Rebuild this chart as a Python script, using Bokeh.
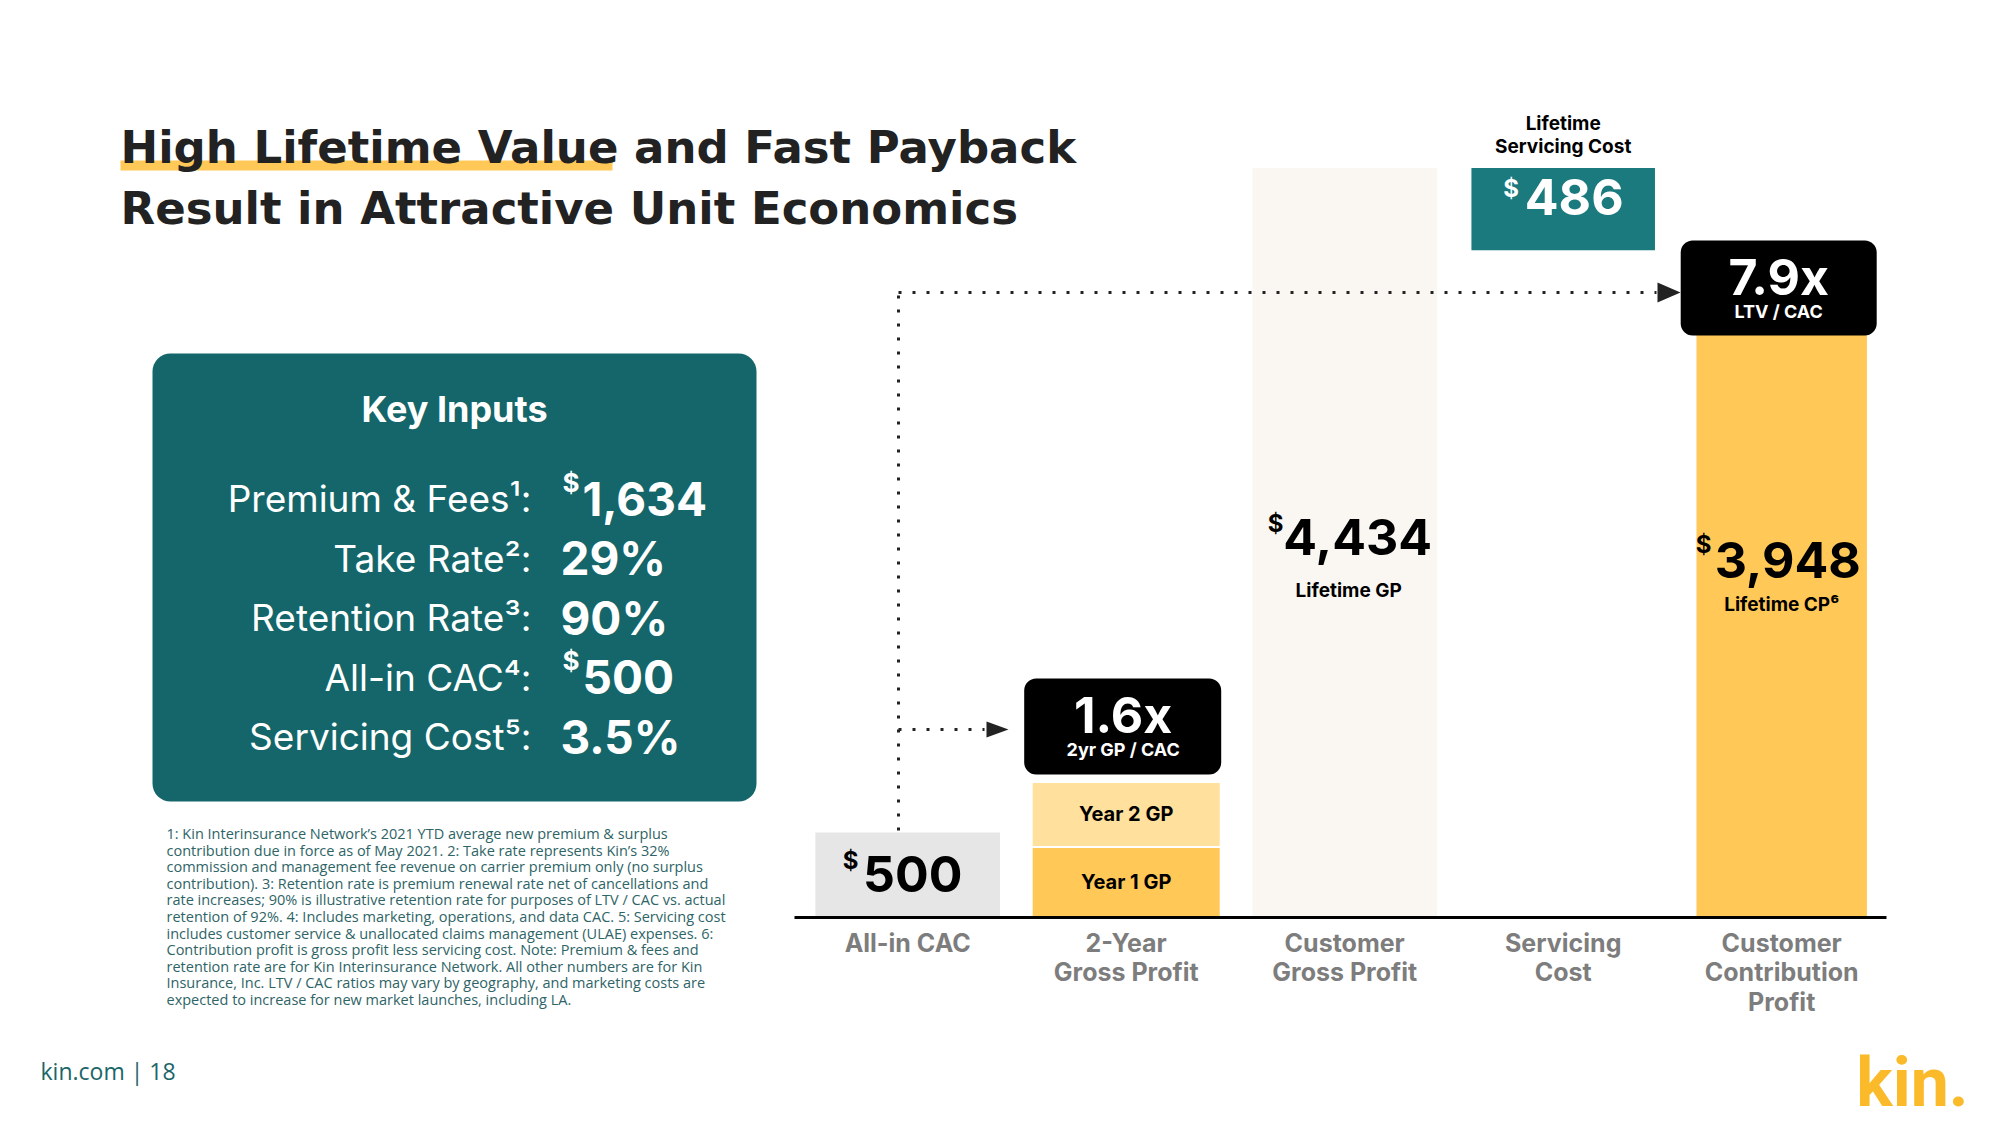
from bokeh.plotting import figure
from bokeh.models import Range1d
from bokeh.core.properties import value
from bokeh.embed import file_html
from bokeh.resources import INLINE

# ---------------- data ----------------
categories = ["All-in CAC", "2-Year\nGross Profit", "Customer\nGross Profit",
              "Servicing\nCost", "Customer\nContribution\nProfit"]
all_in_cac = 500
year1_gp = 415
year2_gp = 385
lifetime_gp = 4434
servicing_cost = 486
lifetime_cp = 3948
payback_ratio = "1.6x"
ltv_cac_ratio = "7.9x"

ki_labels = ["Premium & Fees¹:", "Take Rate²:", "Retention Rate³:", "All-in CAC⁴:", "Servicing Cost⁵:"]
ki_values = ["1,634", "29%", "90%", "500", "3.5%"]
ki_dollar = [True, False, False, True, False]

footnotes = [
    "1: Kin Interinsurance Network\u2019s 2021 YTD average new premium & surplus",
    "contribution due in force as of May 2021. 2: Take rate represents Kin\u2019s 32%",
    "commission and management fee revenue on carrier premium only (no surplus",
    "contribution). 3: Retention rate is premium renewal rate net of cancellations and",
    "rate increases; 90% is illustrative retention rate for purposes of LTV / CAC vs. actual",
    "retention of 92%. 4: Includes marketing, operations, and data CAC. 5: Servicing cost",
    "includes customer service & unallocated claims management (ULAE) expenses. 6:",
    "Contribution profit is gross profit less servicing cost. Note: Premium & fees and",
    "retention rate are for Kin Interinsurance Network. All other numbers are for Kin",
    "Insurance, Inc. LTV / CAC ratios may vary by geography, and marketing costs are",
    "expected to increase for new market launches, including LA.",
]

# ---------------- styles ----------------
W, H = 2000, 1125
TEAL = "#14666A"
TEAL2 = "#1A7A7D"
YELLOW = "#FFC857"
YELLOW_LIGHT = "#FFE09C"
GREY_BAR = "#E6E6E6"
CREAM = "#FAF7F2"
DARK = "#222222"
CAT_GREY = "#7D7D7D"
FONT = "Inter"
NUMFONT = "Inter"
TITLEFONT = "DejaVu Sans"

# chart placement on the page (pixels)
X0, DX = 907.2, 218.5        # centre of first category, spacing
Y0, S = 916.5, 0.1689         # baseline, pixels per dollar

p = figure(width=W, height=H, x_range=Range1d(0, W), y_range=Range1d(H, 0),
           output_backend="svg", toolbar_location=None,
           x_axis_type=None, y_axis_type=None, min_border=0)
p.title = None
p.grid.visible = False
p.outline_line_color = None
p.background_fill_color = "white"
p.border_fill_color = "white"

p.extra_x_ranges = {"cx": Range1d(start=(0 - X0) / DX, end=(W - X0) / DX)}
p.extra_y_ranges = {"cy": Range1d(start=(Y0 - H) / S, end=Y0 / S)}
CH = dict(x_range_name="cx", y_range_name="cy")


def txt(x, y, s, size, color, bold=False, align="left", baseline="middle",
        font=FONT, chart=False, xo=0, yo=0, lh=1.2):
    kw = dict(x=[x], y=[y], text=[s], text_font=value(font),
              text_font_size=f"{size}px", text_color=color,
              text_font_style="bold" if bold else "normal",
              text_align=align, text_baseline=baseline,
              x_offset=xo, y_offset=yo, text_line_height=lh)
    if chart:
        kw.update(CH)
    p.text(**kw)


# ---------------- title ----------------
p.quad(left=[120], right=[612], top=[160], bottom=[170], color=YELLOW, line_color=None)
txt(120, 147, "High Lifetime Value and Fast Payback", 45, DARK, bold=True,
    baseline="alphabetic", font=TITLEFONT)
txt(120, 208, "Result in Attractive Unit Economics", 45, DARK, bold=True,
    baseline="alphabetic", font=TITLEFONT)

# ---------------- key inputs box ----------------
p.quad(left=[152], right=[756], top=[353], bottom=[801], color=TEAL,
       line_color=None, border_radius=18)
txt(454, 408, "Key Inputs", 36, "white", bold=True, align="center", baseline="alphabetic")
for i, (lab, val, dol) in enumerate(zip(ki_labels, ki_values, ki_dollar)):
    base = 498 + 59.5 * i
    txt(531, base, lab, 37, "white", align="right", baseline="alphabetic")
    if dol:
        txt(562, base - 32, "$", 26, "white", bold=True, baseline="top")
        txt(582, base, val, 46, "white", bold=True, baseline="alphabetic", font=NUMFONT)
    else:
        txt(560, base, val, 46, "white", bold=True, baseline="alphabetic", font=NUMFONT)

# ---------------- footnotes ----------------
for i, line in enumerate(footnotes):
    txt(166, 833 + 16.6 * i, line, 14.5, "#2E6466", font="Open Sans")

txt(40, 1070, "kin.com | 18", 23, "#1B6668", font="Open Sans")
txt(1968, 1082, "kin.", 68, "#FBBA2A", bold=True, align="right", baseline="middle",
    font="Roboto", lh=1.0)

# ---------------- bars (chart scales) ----------------
p.vbar(x=[0], bottom=[0], top=[all_in_cac], width=0.845, color=GREY_BAR, line_color=None, **CH)
p.vbar(x=[1], bottom=[0], top=[year1_gp], width=0.865, color=YELLOW,
       line_color="white", line_width=2, **CH)
p.vbar(x=[1], bottom=[year1_gp], top=[year1_gp + year2_gp], width=0.865, color=YELLOW_LIGHT,
       line_color="white", line_width=2, **CH)
p.vbar(x=[2], bottom=[0], top=[lifetime_gp], width=0.845, color=CREAM, line_color=None, **CH)
p.vbar(x=[3], bottom=[lifetime_gp - servicing_cost], top=[lifetime_gp], width=0.84,
       color=TEAL2, line_color=None, **CH)
p.vbar(x=[4], bottom=[0], top=[lifetime_cp], width=0.78, color=YELLOW, line_color=None, **CH)

# baseline
p.segment(x0=[794], x1=[1886], y0=[917], y1=[917], line_color="black", line_width=3)

# category labels
for i, c in enumerate(categories):
    txt(i, 0, c, 25, CAT_GREY, bold=True, align="center", baseline="top",
        chart=True, yo=11, lh=0.98)

# values in bars
txt(0, all_in_cac / 2, str(all_in_cac), 50, "black", bold=True, align="center", chart=True, xo=5, yo=-1, font=NUMFONT)
txt(0, all_in_cac / 2, "$", 24, "black", bold=True, align="center", chart=True, xo=-57, yo=-14)

txt(1, year1_gp / 2, "Year 1 GP", 20, "black", bold=True, align="center", chart=True)
txt(1, year1_gp + year2_gp / 2, "Year 2 GP", 20, "black", bold=True, align="center", chart=True)

txt(2, lifetime_gp / 2, f"{lifetime_gp:,}", 50, "black", bold=True, align="center", chart=True, xo=13, yo=-6, font=NUMFONT)
txt(2, lifetime_gp / 2, "$", 24, "black", bold=True, align="center", chart=True, xo=-69, yo=-19)
txt(2, lifetime_gp / 2, "Lifetime GP", 19, "black", bold=True, align="center", chart=True, xo=4, yo=48)

sv_mid = lifetime_gp - servicing_cost / 2
txt(3, sv_mid, str(servicing_cost), 50, "white", bold=True, align="center", chart=True, xo=11, yo=-12, font=NUMFONT)
txt(3, sv_mid, "$", 24, "white", bold=True, align="center", chart=True, xo=-52, yo=-21)
txt(3, lifetime_gp, "Lifetime\nServicing Cost", 19, "black", bold=True, align="center",
    baseline="bottom", chart=True, yo=-10, lh=1.0)

txt(4, lifetime_cp / 2, f"{lifetime_cp:,}", 50, "black", bold=True, align="center", chart=True, xo=6, yo=-24, font=NUMFONT)
txt(4, lifetime_cp / 2, "$", 24, "black", bold=True, align="center", chart=True, xo=-78, yo=-39)
txt(4, lifetime_cp / 2, "Lifetime CP⁶", 19, "black", bold=True, align="center", chart=True, yo=21)

# ---------------- ratio boxes ----------------
c1 = X0 + DX * 1
c4 = X0 + DX * 4
p.quad(left=[c1 - 102], right=[c1 + 95], top=[678], bottom=[774], color="black",
       line_color=None, border_radius=12)
txt(c1 - 3, 714, payback_ratio, 50, "white", bold=True, align="center", font=NUMFONT)
txt(c1 - 3, 749, "2yr GP / CAC", 18, "white", bold=True, align="center")

p.quad(left=[c4 - 101], right=[c4 + 95], top=[240], bottom=[335], color="black",
       line_color=None, border_radius=12)
txt(c4 - 3, 276, ltv_cac_ratio, 50, "white", bold=True, align="center", font=NUMFONT)
txt(c4 - 3, 311, "LTV / CAC", 18, "white", bold=True, align="center")

# ---------------- dotted connectors ----------------
dot = dict(line_color=DARK, line_width=3, line_dash="3 11", line_cap="butt")
p.line(x=[898, 898], y=[830, 292], **dot)
p.line(x=[898, 1656], y=[292, 292], **dot)
p.line(x=[898, 984], y=[729, 729], **dot)
p.patch(x=[1657, 1680, 1657], y=[282, 292, 302], color=DARK, line_color=None)
p.patch(x=[986, 1008, 986], y=[721, 729, 737], color=DARK, line_color=None)

open("out.html", "w").write(file_html(p, INLINE))
